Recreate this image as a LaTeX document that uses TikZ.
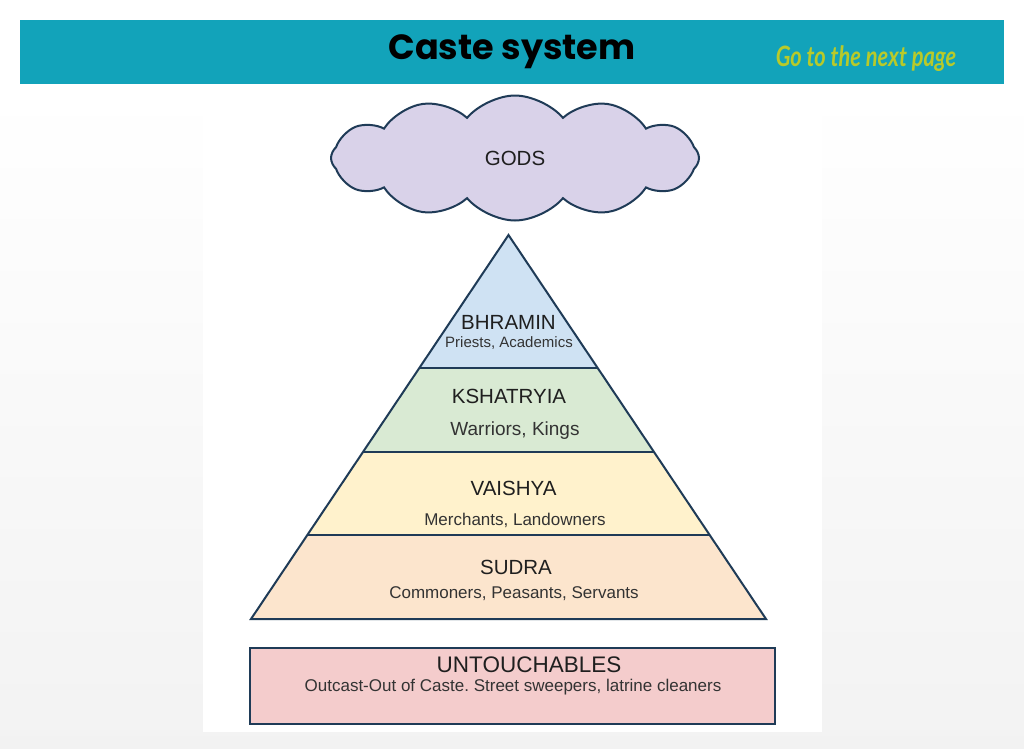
\documentclass[tikz,border=0pt]{standalone}
\usepackage{fontspec}
\setmainfont{Liberation Sans}
\newfontfamily\fejfont{Poppins}
\newfontfamily\linkfont{Lato}
\usetikzlibrary{shapes.symbols,positioning}
\definecolor{tenger}{HTML}{12A3BA}
\definecolor{keret}{HTML}{1F3B57}
\definecolor{kek}{HTML}{CFE2F3}
\definecolor{zold}{HTML}{D9EAD3}
\definecolor{sarga}{HTML}{FFF2CC}
\definecolor{narancs}{HTML}{FCE5CD}
\definecolor{rozsa}{HTML}{F4CCCC}
\definecolor{lila}{HTML}{D9D2E9}
\definecolor{link}{HTML}{B8CA2A}
\tikzset{
  hatar/.style={draw=keret,line width=2pt,line join=miter},
  nev/.style={text=black!88,inner sep=0pt,font=\fontsize{20.5}{24}\selectfont},
  leiras/.style={text=black!80,inner sep=0pt,font=\fontsize{17}{20}\selectfont},
}
\frenchspacing

\begin{document}
\begin{tikzpicture}[x=1pt,y=-1pt]
  \useasboundingbox (0,0) rectangle (1024,748);
  \shade[top color=white,bottom color=black!5] (0,90) rectangle (1024,748);
  \fill[white] (203,83) rectangle (822,732);
  \fill[tenger] (20,20) rectangle (1004,84);
  \node[font=\fejfont\bfseries\fontsize{35}{40}\selectfont] (cim) at (512,52) {Caste system};
  \node[text=link,xscale=0.78,transform shape,
    font=\linkfont\bfseries\itshape\fontsize{28}{32}\selectfont] (tovabb) at (866,59) {Go to the next page};
  % felho
  \node[cloud,cloud puffs=12,cloud puff arc=100,aspect=3.2,draw=keret,line width=2pt,
    fill=lila,minimum width=368pt,minimum height=125pt,nev] (gods) at (515,158) {GODS};
  % piramis
  \coordinate (csucs) at (508.5,235);
  \coordinate (b1) at (419.3,368); \coordinate (j1) at (597.7,368);
  \coordinate (b2) at (363,452);   \coordinate (j2) at (654,452);
  \coordinate (b3) at (307.3,535); \coordinate (j3) at (709.7,535);
  \coordinate (b4) at (251,619);   \coordinate (j4) at (766,619);
  \fill[kek] (csucs) -- (j1) -- (b1) -- cycle;
  \fill[zold] (b1) -- (j1) -- (j2) -- (b2) -- cycle;
  \fill[sarga] (b2) -- (j2) -- (j3) -- (b3) -- cycle;
  \fill[narancs] (b3) -- (j3) -- (j4) -- (b4) -- cycle;
  \draw[hatar] (csucs) -- (j4) -- (b4) -- cycle;
  \draw[hatar] (b1) -- (j1) (b2) -- (j2) (b3) -- (j3);
  \node[nev] (bhramin) at (508.5,322) {BHRAMIN};
  \node[leiras,font=\fontsize{15}{18}\selectfont] (papok) at (509,343) {Priests, Academics};
  \node[nev] (kshatriya) at (509,396) {KSHATRYIA};
  \node[leiras,font=\fontsize{19}{22}\selectfont] (harcosok) at (515,431) {Warriors, Kings};
  \node[nev] (vaishya) at (513.5,488) {VAISHYA};
  \node[leiras] (kereskedok) at (515,520) {Merchants, Landowners};
  \node[nev] (sudra) at (516,567) {SUDRA};
  \node[leiras] (koznep) at (514,594) {Commoners, Peasants, Servants};
  % kivulallok
  \node[hatar,fill=rozsa,minimum width=525pt,minimum height=76pt,inner sep=0pt] (kitaszitott) at (512.5,686) {};
  \node[nev,font=\fontsize{22.5}{26}\selectfont] (untouch) at (529,665) {UNTOUCHABLES};
  \node[leiras,font=\fontsize{17}{20}\selectfont] (utca) at (513,687) {Outcast-Out of Caste. Street sweepers, latrine cleaners};
\end{tikzpicture}
\end{document}
